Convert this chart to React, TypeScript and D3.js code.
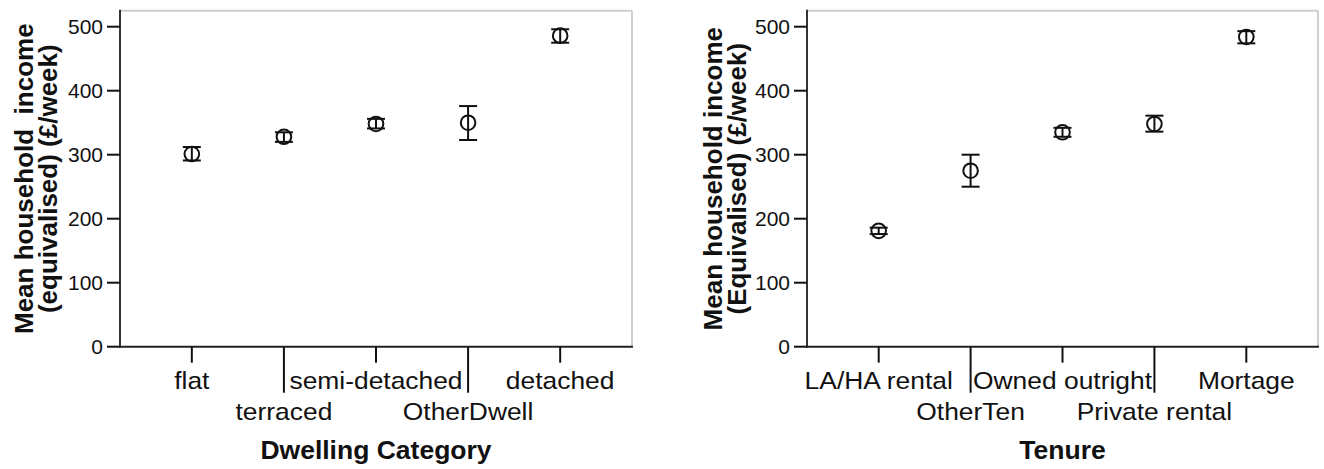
import React from 'react'
import * as d3 from 'd3'

// Dwelling category panel (mean and 95% CI, £/week)
const dwellingCats = ['flat', 'terraced', 'semi-detached', 'OtherDwell', 'detached']
const dwellingMean = [301, 328, 348, 350, 486]
const dwellingLow = [291, 320, 341, 323, 475]
const dwellingHigh = [312, 335, 356, 376, 496]

// Tenure panel
const tenureCats = ['LA/HA rental', 'OtherTen', 'Owned outright', 'Private rental', 'Mortage']
const tenureMean = [181, 275, 335, 348, 484]
const tenureLow = [176, 250, 328, 336, 474]
const tenureHigh = [186, 300, 342, 361, 493]

const yTicks = [0, 100, 200, 300, 400, 500]

const font = "'Liberation Sans', Arial, Helvetica, sans-serif"

type PanelProps = {
  left: number
  right: number
  cats: string[]
  mean: number[]
  low: number[]
  high: number[]
  yTitle: string[]
  yTitleX: number[]
  xTitle: string
}

const top = 10.7
const bottom = 346.7

const Panel = (props: PanelProps) => {
  const { left, right, cats, mean, low, high, yTitle, yTitleX, xTitle } = props

  const x = d3.scalePoint<string>().domain(cats).range([left, right]).padding(0.78)
  const y = d3.scaleLinear().domain([0, 525]).range([bottom, top])
  const midY = (top + bottom) / 2

  return (
    <g>
      {/* frame: light top/right, dark left/bottom */}
      <line x1={left} x2={right} y1={top} y2={top} stroke="#cfcfcf" strokeWidth={2} />
      <line x1={right} x2={right} y1={top} y2={bottom} stroke="#cfcfcf" strokeWidth={2} />
      <line x1={left} x2={left} y1={top - 1} y2={bottom + 1} stroke="#333" strokeWidth={2} />
      <line x1={left - 1} x2={right + 1} y1={bottom} y2={bottom} stroke="#222" strokeWidth={2} />

      {yTicks.map(t => (
        <g key={t}>
          <line x1={left - 13} x2={left} y1={y(t)} y2={y(t)} stroke="#111" strokeWidth={2} />
          <text x={left - 17} y={y(t)} textAnchor="end" dominantBaseline="central"
                fontSize={21} fontFamily={font} fill="#111">{t}</text>
        </g>
      ))}

      {cats.map((c, i) => {
        const cx = x(c) as number
        const stagger = i % 2 === 1
        return (
          <g key={c}>
            <line x1={cx} x2={cx} y1={bottom} y2={bottom + (stagger ? 46 : 16)} stroke="#111" strokeWidth={2} />
            <g transform={`translate(${cx},${stagger ? 420 : 389}) scale(1.1,1)`}>
              <text textAnchor="middle" fontSize={24} fontFamily={font} fill="#111">{c}</text>
            </g>
          </g>
        )
      })}

      {cats.map((c, i) => {
        const cx = x(c) as number
        return (
          <g key={'e' + c} stroke="#111" strokeWidth={2} fill="none">
            <line x1={cx} x2={cx} y1={y(low[i])} y2={y(high[i])} />
            <line x1={cx - 9} x2={cx + 9} y1={y(low[i])} y2={y(low[i])} />
            <line x1={cx - 9} x2={cx + 9} y1={y(high[i])} y2={y(high[i])} />
            <circle cx={cx} cy={y(mean[i])} r={7.3} />
          </g>
        )
      })}

      {yTitle.map((t, i) => (
        <text key={t} transform={`translate(${yTitleX[i]},${midY}) rotate(-90)`} textAnchor="middle"
              dominantBaseline="central" fontSize={26} fontWeight="bold" fontFamily={font}
              fill="#111" style={{ whiteSpace: 'pre' }}>{t}</text>
      ))}

      <text x={(left + right) / 2} y={459} textAnchor="middle" fontSize={26.5} fontWeight="bold"
            fontFamily={font} fill="#111">{xTitle}</text>
    </g>
  )
}

export default function App() {
  return (
    <svg width={1324} height={469} style={{ position: 'absolute', left: 0, top: 0, background: '#fff' }}>
      <Panel left={120} right={632} cats={dwellingCats} mean={dwellingMean} low={dwellingLow}
             high={dwellingHigh} yTitle={['Mean household  income', '(equivalised) (£/week)']}
             yTitleX={[24, 48]} xTitle="Dwelling Category" />
      <Panel left={807} right={1318} cats={tenureCats} mean={tenureMean} low={tenureLow}
             high={tenureHigh} yTitle={['Mean household income', '(Equivalised) (£/week)']}
             yTitleX={[713, 737]} xTitle="Tenure" />
    </svg>
  )
}
